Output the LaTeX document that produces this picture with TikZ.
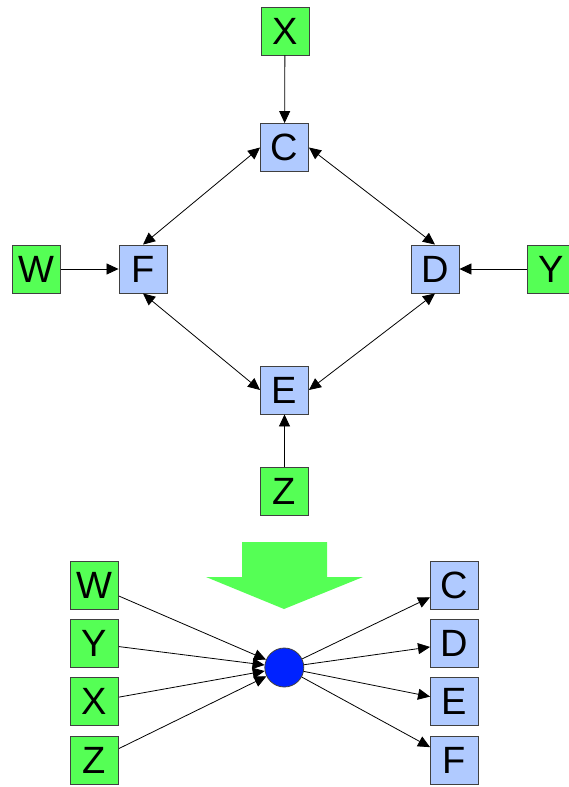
\documentclass[tikz,border=0pt]{standalone}
\usepackage{fontspec}
\setmainfont{Liberation Sans}
\usetikzlibrary{arrows.meta}
\definecolor{boxgreen}{RGB}{85,255,85}
\definecolor{boxblue}{RGB}{176,202,255}
\definecolor{dotblue}{RGB}{0,34,255}
\definecolor{edgegray}{RGB}{64,64,64}
\tikzset{
  sq/.style={draw=edgegray, line width=0.9pt, minimum size=48pt, inner sep=0pt,
             font=\fontsize{38}{38}\selectfont, text depth=0pt},
  src/.style={sq, fill=boxgreen},
  var/.style={sq, fill=boxblue},
  link/.style={line width=0.8pt, -{Triangle[length=12pt,width=11pt]}},
  dlink/.style={line width=0.8pt, {Triangle[length=12pt,width=11pt]}-{Triangle[length=12pt,width=11pt]}},
}
\begin{document}
\begin{tikzpicture}[x=1pt,y=-1pt]
\useasboundingbox (0,0) rectangle (569,787);
\clip (0,0) rectangle (569,787);
% upper graph
\node[src] (X) at (285,31) {X};
\node[var] (C) at (284.5,147.5) {C};
\node[src] (W) at (36.5,269) {W};
\node[var] (F) at (143,269) {F};
\node[var] (D) at (435,269) {D};
\node[src] (Y) at (551,269) {Y};
\node[var] (E) at (284.5,390) {E};
\node[src] (Z) at (284.5,491) {Z};
\draw[link] (X) -- (C);
\draw[link] (W) -- (F);
\draw[link] (Y) -- (D);
\draw[link] (Z) -- (E);
\draw[dlink] (F.north) -- (C.west);
\draw[dlink] (D.north) -- (C.east);
\draw[dlink] (F.south) -- (E.west);
\draw[dlink] (D.south) -- (E.east);
% big downward arrow
\fill[boxgreen] (242,542) -- (327,542) -- (327,577) -- (363,577) -- (284,609)
  -- (206,577) -- (242,577) -- cycle;
% lower graph
\node[src] (W2) at (94.5,585.5) {W};
\node[src] (Y2) at (94.5,643.5) {Y};
\node[src] (X2) at (94.5,701.5) {X};
\node[src] (Z2) at (94.5,760.5) {Z};
\node[var] (C2) at (454.5,585.5) {C};
\node[var] (D2) at (454.5,643.5) {D};
\node[var] (E2) at (454.5,701.5) {E};
\node[var] (F2) at (454.5,760.5) {F};
\node[circle, draw=edgegray, line width=0.8pt, fill=dotblue, minimum size=39pt, inner sep=0pt] (hub) at (284.3,667.5) {};
\foreach \s in {W2,Y2,X2,Z2} \draw[link] (\s) -- (hub);
\foreach \t in {C2,D2,E2,F2} \draw[link] (hub) -- (\t);
\end{tikzpicture}
\end{document}
